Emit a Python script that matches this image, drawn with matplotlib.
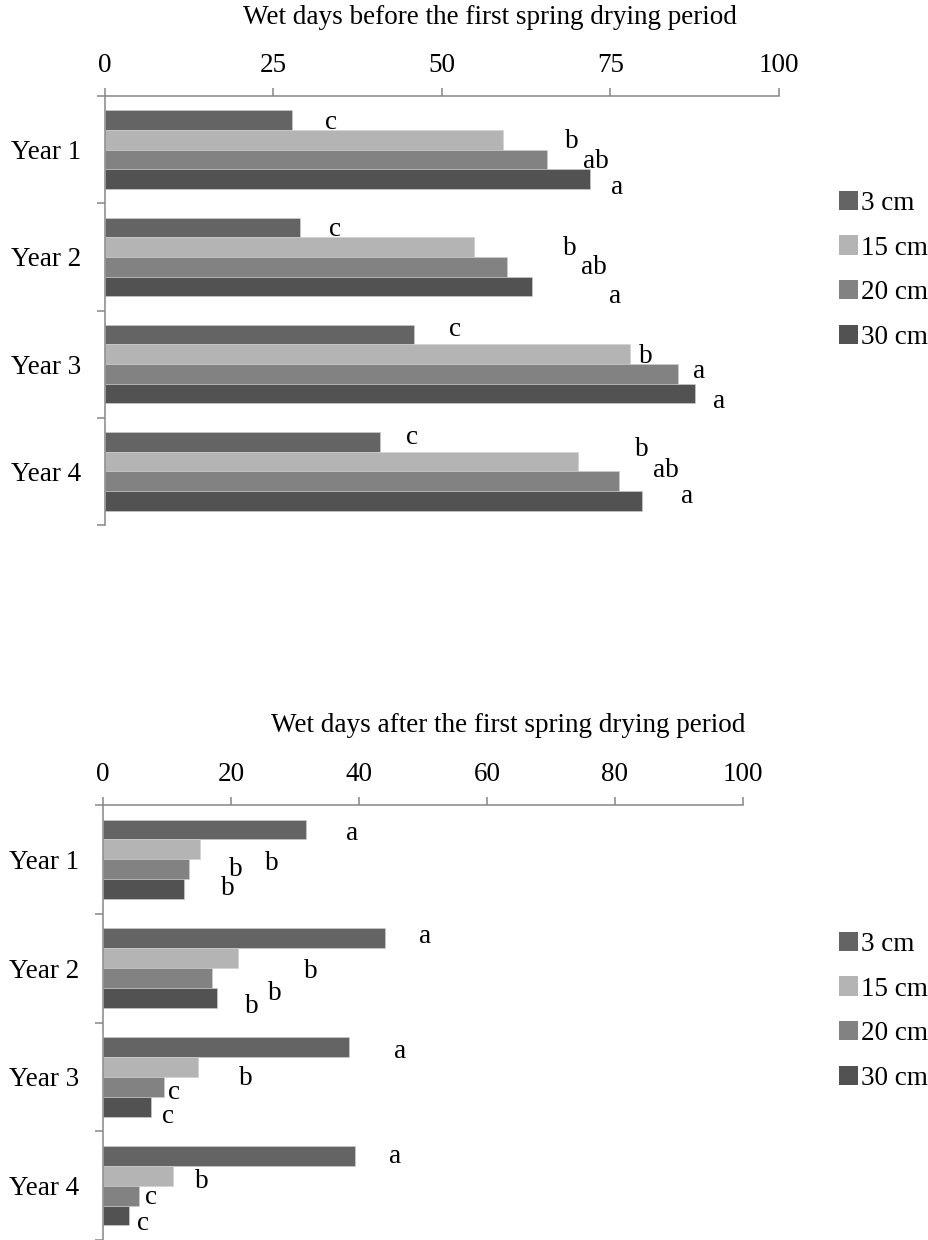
import matplotlib
matplotlib.use("Agg")
import matplotlib.pyplot as plt
import numpy as np
from matplotlib.patches import Patch

plt.rcParams['font.family'] = ['Liberation Serif', 'DejaVu Serif']

years = ["Year 1", "Year 2", "Year 3", "Year 4"]
depths = ["3 cm", "15 cm", "20 cm", "30 cm"]
colors = ["#646464", "#b4b4b4", "#828282", "#525252"]

# Wet days before the first spring drying period (rows: depth, cols: year)
before_3 = [27.7, 29.0, 45.8, 40.8]
before_15 = [59.0, 54.7, 77.9, 70.2]
before_20 = [65.6, 59.7, 85.0, 76.2]
before_30 = [71.9, 63.3, 87.6, 79.7]
before_letters = [["c", "c", "c", "c"],
                  ["b", "b", "b", "b"],
                  ["ab", "ab", "a", "ab"],
                  ["a", "a", "a", "a"]]

# Wet days after the first spring drying period
after_3 = [31.7, 44.0, 38.4, 39.4]
after_15 = [15.2, 21.1, 14.8, 10.9]
after_20 = [13.5, 17.0, 9.5, 5.6]
after_30 = [12.6, 17.8, 7.5, 4.0]
after_letters = [["a", "a", "a", "a"],
                 ["b", "b", "b", "b"],
                 ["b", "b", "c", "c"],
                 ["b", "b", "c", "c"]]

# letter label positions (x in data units, y offset in bar units)
before_lab_x = [[33.5, 34.1, 52.0, 45.6],
                [69.3, 69.0, 80.2, 79.6],
                [72.9, 72.6, 88.1, 83.2],
                [76.0, 75.7, 91.1, 86.4]]
before_lab_dy = [[0.1, 0.1, -0.25, -0.25],
                 [0.1, 0.05, 0.1, -0.6],
                 [0.1, 0.05, -0.1, -0.55],
                 [0.45, 0.5, 0.4, -0.2]]
after_lab_x = [[38.9, 50.3, 46.4, 45.7],
               [26.4, 32.5, 22.3, 15.4],
               [20.8, 26.9, 11.1, 7.5],
               [19.5, 23.3, 10.1, 6.2]]
after_lab_dy = [[0.2, -0.1, 0.2, 0.05],
                [0.7, 0.65, 0.6, 0.3],
                [0.0, 0.75, 0.3, 0.1],
                [-0.05, 0.45, 0.5, 0.4]]

fig = plt.figure(figsize=(9.29, 12.4), dpi=100)
W, H = 929, 1240
FS = 19.5

def make_ax(rect_px, series, letters, lab_x, lab_dy, ticks, title, title_xy, leg_y):
    x0, y0, x1, y1 = rect_px
    ax = fig.add_axes([x0 / W, 1 - y1 / H, (x1 - x0) / W, (y1 - y0) / H])
    n = len(years)
    pos = np.arange(n)
    bh = 0.183
    for i, vals in enumerate(series):
        yy = pos - 1.5 * bh + i * bh
        ax.barh(yy, vals, height=bh, color=colors[i], edgecolor="#d0d0d0", linewidth=0.4)
        for j in range(n):
            ax.text(lab_x[i][j], yy[j] + lab_dy[i][j] * bh, letters[i][j],
                    ha="center", va="center", fontsize=FS)
    ax.set_xlim(0, 100)
    ax.set_ylim(n - 0.5, -0.5)
    ax.xaxis.tick_top()
    ax.set_xticks(ticks)
    ax.set_xticklabels([str(t) for t in ticks], fontsize=FS)
    ax.tick_params(axis="x", direction="out", length=6, width=1.1, color="#868686", pad=7)
    ax.set_yticks(pos)
    ax.set_yticklabels(years, fontsize=FS)
    ax.set_yticks(np.arange(n + 1) - 0.5, minor=True)
    ax.tick_params(axis="y", which="major", length=0, pad=17)
    ax.tick_params(axis="y", which="minor", direction="out", length=6, width=1.1, color="#868686")
    for s in ["right", "bottom"]:
        ax.spines[s].set_visible(False)
    for s in ["left", "top"]:
        ax.spines[s].set_color("#868686")
        ax.spines[s].set_linewidth(1.1)
    fig.text(title_xy[0] / W, 1 - title_xy[1] / H, title, ha="center", va="center", fontsize=FS)
    handles = [Patch(facecolor=c, edgecolor="none") for c in colors]
    fig.legend(handles, depths, loc="upper left", bbox_to_anchor=(828 / W, 1 - leg_y / H),
               frameon=False, fontsize=FS, handlelength=0.72, handleheight=0.72,
               handletextpad=0.1, labelspacing=0.72, borderaxespad=0)
    return ax

make_ax((105, 96, 779, 525), [before_3, before_15, before_20, before_30],
        before_letters, before_lab_x, before_lab_dy, [0, 25, 50, 75, 100],
        "Wet days before the first spring drying period", (490, 18), 180)
make_ax((103, 805, 743, 1240), [after_3, after_15, after_20, after_30],
        after_letters, after_lab_x, after_lab_dy, [0, 20, 40, 60, 80, 100],
        "Wet days after the first spring drying period", (508, 726), 921)

fig.savefig("out.png", dpi=100)
